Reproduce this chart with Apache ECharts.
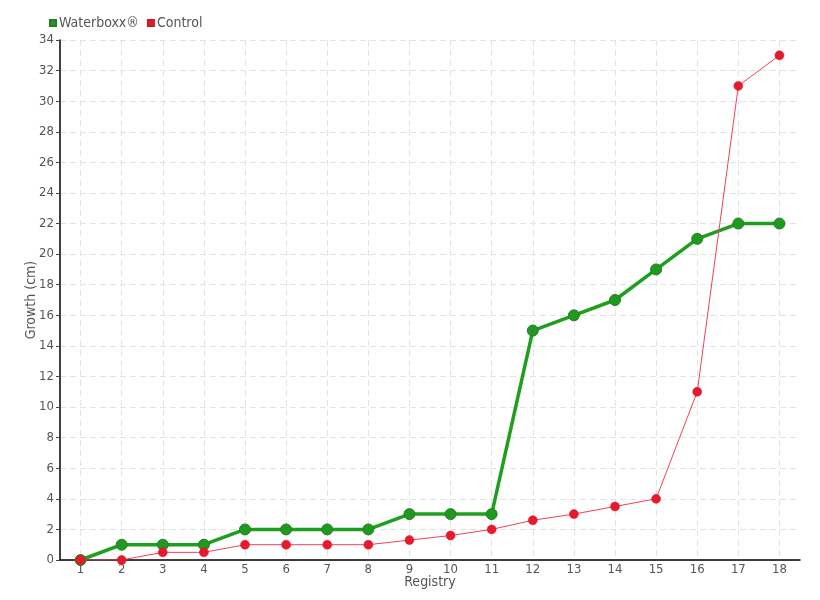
<!DOCTYPE html>
<html>
<head>
<meta charset="utf-8">
<script src="https://cdn.jsdelivr.net/npm/echarts@6/dist/echarts.min.js"></script>
<style>
  html, body { margin: 0; padding: 0; background: #fff; }
  #chart { width: 820px; height: 600px; }
</style>
</head>
<body>
<div id="chart"></div>
<script>
var registry = ["1", "2", "3", "4", "5", "6", "7", "8", "9", "10", "11", "12", "13", "14", "15", "16", "17", "18"];
var waterboxx = [0, 1, 1, 1, 2, 2, 2, 2, 3, 3, 3, 15, 16, 17, 19, 21, 22, 22];
var control = [0, 0, 0.5, 0.5, 1, 1, 1, 1, 1.3, 1.6, 2, 2.6, 3, 3.5, 4, 11, 31, 33];

var font = "'DejaVu Sans Condensed', 'Liberation Sans Narrow', sans-serif";

var chart = echarts.init(document.getElementById("chart"));
chart.setOption({
  animation: false,
  textStyle: { fontFamily: font },
  legend: {
    left: 44,
    top: 11,
    itemWidth: 6,
    itemHeight: 6,
    itemGap: 8,
    icon: "rect",
    textStyle: { fontFamily: font, fontSize: 14, color: "#555", padding: [0, 0, 0, -2] },
    data: ["Waterboxx®", "Control"]
  },
  grid: {
    left: 60,
    right: 20,
    top: 40,
    bottom: 40
  },
  xAxis: {
    type: "category",
    data: registry,
    name: "Registry",
    nameLocation: "middle",
    nameGap: 15,
    nameMoveOverlap: false,
    nameTextStyle: { fontFamily: font, fontSize: 14, color: "#555" },
    axisLine: { lineStyle: { color: "#000", width: 1.5 } },
    axisTick: { alignWithLabel: true, length: 4, lineStyle: { color: "#444" } },
    axisLabel: { fontFamily: font, fontSize: 13, color: "#555", margin: 3 },
    splitLine: { show: true, interval: 0, alignWithLabel: true, lineStyle: { color: "#e3e3e3", type: [6, 4] } }
  },
  yAxis: {
    type: "value",
    min: 0,
    max: 34,
    interval: 2,
    name: "Growth (cm)",
    nameLocation: "middle",
    nameGap: 22,
    nameMoveOverlap: false,
    nameTextStyle: { fontFamily: font, fontSize: 14, color: "#555" },
    axisLine: { show: true, lineStyle: { color: "#000", width: 1.5 } },
    axisTick: { show: true, length: 4, lineStyle: { color: "#444" } },
    axisLabel: { fontFamily: font, fontSize: 13, color: "#555", margin: 6 },
    splitLine: { show: true, lineStyle: { color: "#e3e3e3", type: [6, 4] } }
  },
  series: [
    {
      name: "Waterboxx®",
      type: "line",
      data: waterboxx,
      symbol: "circle",
      symbolSize: 11,
      itemStyle: { color: "#1e9a1e", borderColor: "#2a7a2a", borderWidth: 1 },
      lineStyle: { color: "#1ea01e", width: 3.5 }
    },
    {
      name: "Control",
      type: "line",
      data: control,
      symbol: "circle",
      symbolSize: 9,
      itemStyle: { color: "#e8192c", borderColor: "#d01a2a", borderWidth: 0.5 },
      lineStyle: { color: "#f2405a", width: 1 }
    }
  ]
});
</script>
</body>
</html>
